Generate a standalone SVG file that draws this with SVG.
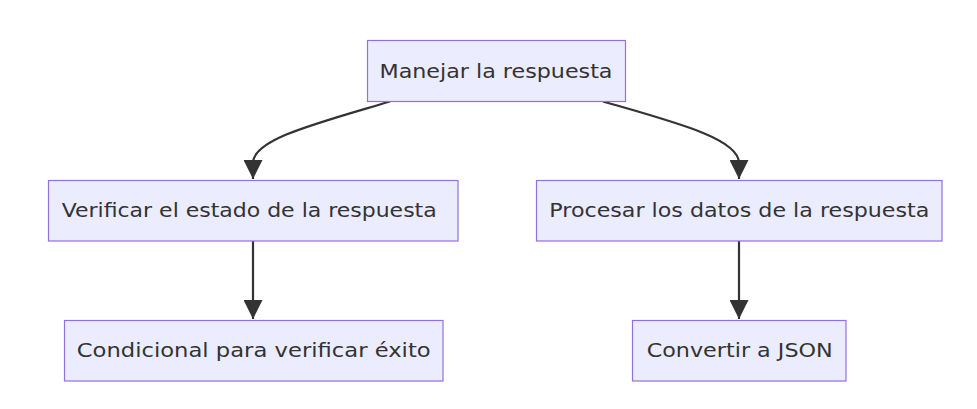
<svg xmlns="http://www.w3.org/2000/svg" width="977" height="409" viewBox="0 0 977 409">
<style>
.node rect{fill:#ECECFF;stroke:#9370DB;stroke-width:1.2}
.node text{font-family:"DejaVu Sans","Liberation Sans",sans-serif;font-size:19px;fill:#333;text-anchor:middle}
.edge{fill:none;stroke:#333;stroke-width:2.2;marker-end:url(#arrow)}
</style>
<defs>
<marker id="arrow" viewBox="0 0 10 10" refX="10" refY="5" markerUnits="userSpaceOnUse" markerWidth="19" markerHeight="19" orient="auto">
<path d="M0,0 L10,5 L0,10 z" fill="#333"/>
</marker>
</defs>
<rect width="977" height="409" fill="#fff"/>
<g id="edges">
<path class="edge" d="M390,101.5 C318,123 253,139 253,163 L253,179"/>
<path class="edge" d="M603,101.5 C678,123 739,139 739,163 L739,179"/>
<path class="edge" d="M253,241 L253,319"/>
<path class="edge" d="M739,241 L739,319"/>
</g>
<g id="n1" class="node">
<rect x="367.5" y="40.5" width="258" height="61"/>
<text x="496" y="77.5" textLength="233" lengthAdjust="spacingAndGlyphs">Manejar la respuesta</text>
</g>
<g id="n2" class="node">
<rect x="48.5" y="180.5" width="409.5" height="60.5"/>
<text x="249.2" y="217" textLength="375" lengthAdjust="spacingAndGlyphs">Verificar el estado de la respuesta</text>
</g>
<g id="n3" class="node">
<rect x="536.5" y="180.5" width="405.5" height="60.5"/>
<text x="739.3" y="217" textLength="380" lengthAdjust="spacingAndGlyphs">Procesar los datos de la respuesta</text>
</g>
<g id="n4" class="node">
<rect x="64.5" y="320.5" width="378.5" height="60.5"/>
<text x="253.7" y="357" textLength="354" lengthAdjust="spacingAndGlyphs">Condicional para verificar éxito</text>
</g>
<g id="n5" class="node">
<rect x="632.5" y="320.5" width="213.5" height="60.5"/>
<text x="739.7" y="357" textLength="186" lengthAdjust="spacingAndGlyphs">Convertir a JSON</text>
</g>
</svg>
